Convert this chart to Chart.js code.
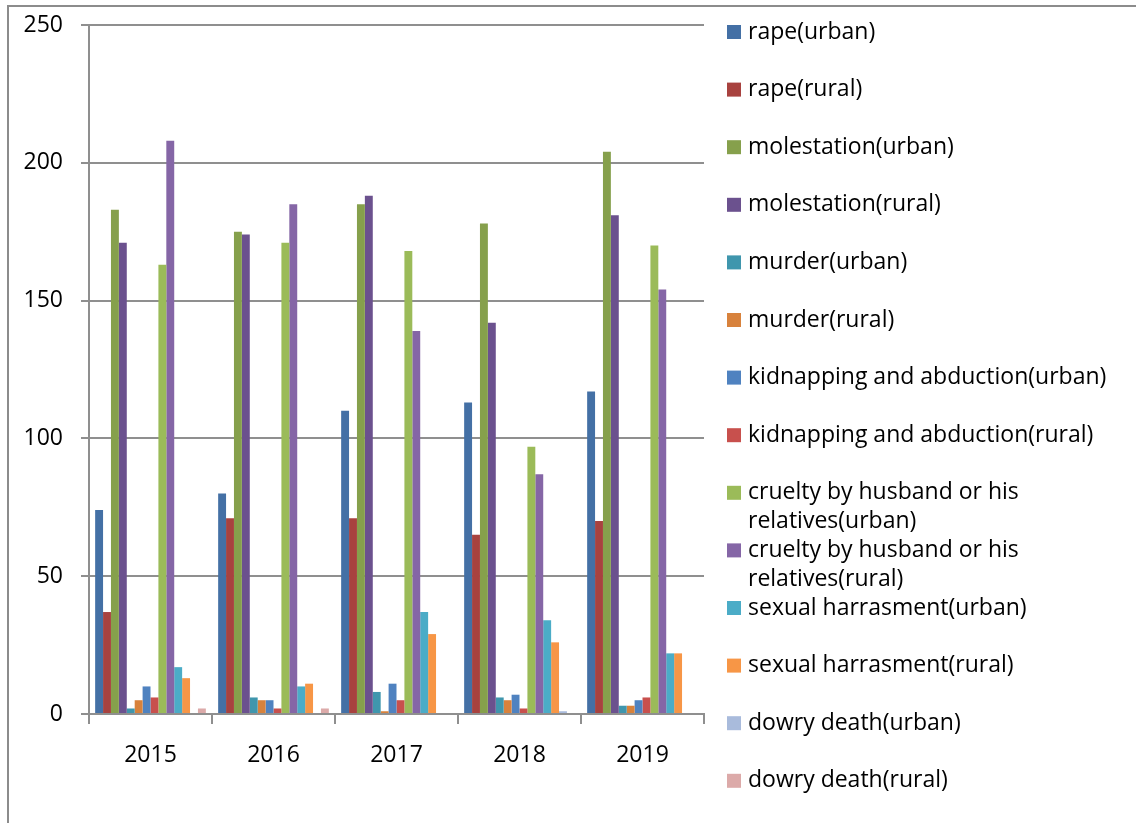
<!DOCTYPE html>
<html>
<head>
<meta charset="utf-8">
<script src="https://cdn.jsdelivr.net/npm/chart.js@4/dist/chart.umd.min.js"></script>
<style>
  html, body { margin: 0; padding: 0; background: #ffffff; }
  #wrap { width: 1136px; height: 823px; position: relative; }
</style>
</head>
<body>
<div id="wrap"><canvas id="crimes" width="1136" height="823"></canvas></div>
<script>
// Reported crimes against women, urban vs rural, by year
const years = ['2015', '2016', '2017', '2018', '2019'];

const rapeUrban         = [74, 80, 110, 113, 117];
const rapeRural         = [37, 71, 71, 65, 70];
const molestationUrban  = [183, 175, 185, 178, 204];
const molestationRural  = [171, 174, 188, 142, 181];
const murderUrban       = [2, 6, 8, 6, 3];
const murderRural       = [5, 5, 1, 5, 3];
const kidnappingUrban   = [10, 5, 11, 7, 5];
const kidnappingRural   = [6, 2, 5, 2, 6];
const crueltyUrban      = [163, 171, 168, 97, 170];
const crueltyRural      = [208, 185, 139, 87, 154];
const harassmentUrban   = [17, 10, 37, 34, 22];
const harassmentRural   = [13, 11, 29, 26, 22];
const dowryDeathUrban   = [0, 0, 0, 1, 0];
const dowryDeathRural   = [2, 2, 0, 0, 0];

const yTicks = [0, 50, 100, 150, 200, 250];

const seriesNames = [
  'rape(urban)', 'rape(rural)',
  'molestation(urban)', 'molestation(rural)',
  'murder(urban)', 'murder(rural)',
  'kidnapping and abduction(urban)', 'kidnapping and abduction(rural)',
  'cruelty by husband or his relatives(urban)', 'cruelty by husband or his relatives(rural)',
  'sexual harrasment(urban)', 'sexual harrasment(rural)',
  'dowry death(urban)', 'dowry death(rural)'
];
const seriesValues = [
  rapeUrban, rapeRural, molestationUrban, molestationRural,
  murderUrban, murderRural, kidnappingUrban, kidnappingRural,
  crueltyUrban, crueltyRural, harassmentUrban, harassmentRural,
  dowryDeathUrban, dowryDeathRural
];
const seriesColors = [
  '#4470a5', '#a8423f', '#86a04c', '#6b518e',
  '#3f96ad', '#d8823c', '#4f82c0', '#c8504d',
  '#9bbb59', '#8566a6', '#4bacc7', '#f79646',
  '#a9bbdc', '#dcaaa9'
];

const FONT = '"Open Sans", "Noto Sans", sans-serif';

const datasets = seriesNames.map((name, i) => ({
  label: name,
  data: seriesValues[i],
  backgroundColor: seriesColors[i],
  borderWidth: 0,
  barPercentage: 1.0,
  categoryPercentage: 0.9
}));

// Frame around the whole chart and white background
const framePlugin = {
  id: 'frame',
  beforeDraw(chart) {
    const ctx = chart.ctx;
    ctx.save();
    ctx.fillStyle = '#ffffff';
    ctx.fillRect(0, 0, chart.width, chart.height);
    ctx.strokeStyle = '#8c8c8c';
    ctx.lineWidth = 2;
    ctx.strokeRect(8, 6, chart.width + 20, chart.height + 20);
    ctx.restore();
  }
};

// Legend on the right with wrapped entries
const sideLegend = {
  id: 'sideLegend',
  afterDraw(chart) {
    const ctx = chart.ctx;
    const x0 = 727, textX = 748, firstY = 32, step = 57.6, lineH = 29, maxW = 378;
    ctx.save();
    ctx.font = '23px ' + FONT;
    ctx.textBaseline = 'middle';
    ctx.textAlign = 'left';
    chart.data.datasets.forEach((ds, i) => {
      const y = firstY + i * step;
      ctx.fillStyle = ds.backgroundColor;
      ctx.fillRect(x0, y - 7, 14, 14);
      // greedy word wrap
      const words = ds.label.split(' ');
      const lines = [];
      let cur = '';
      words.forEach(w => {
        const t = cur ? cur + ' ' + w : w;
        if (ctx.measureText(t).width > maxW && cur) { lines.push(cur); cur = w; }
        else cur = t;
      });
      lines.push(cur);
      ctx.fillStyle = '#000000';
      lines.forEach((ln, k) => ctx.fillText(ln, textX, y + k * lineH));
    });
    ctx.restore();
  }
};

new Chart(document.getElementById('crimes'), {
  type: 'bar',
  data: { labels: years, datasets },
  options: {
    responsive: false,
    animation: false,
    devicePixelRatio: 1,
    layout: { padding: { left: 0, top: 25, right: 432, bottom: 0 } },
    plugins: {
      legend: { display: false },
      tooltip: { enabled: false }
    },
    scales: {
      x: {
        offset: true,
        grid: {
          display: true,
          offset: true,
          drawOnChartArea: false,
          drawTicks: true,
          tickLength: 10,
          color: '#8f8f8f',
          lineWidth: 2
        },
        border: { display: true, color: '#8f8f8f', width: 2 },
        ticks: {
          color: '#000000',
          font: { family: FONT, size: 23 },
          padding: 18,
          maxRotation: 0
        },
        afterFit(scale) { scale.height = 109; }
      },
      y: {
        min: 0,
        max: 250,
        afterBuildTicks(scale) { scale.ticks = yTicks.map(v => ({ value: v })); },
        grid: {
          color: '#8f8f8f',
          lineWidth: 2,
          drawTicks: true,
          tickLength: 8
        },
        border: { display: true, color: '#8f8f8f', width: 2 },
        ticks: {
          color: '#000000',
          font: { family: FONT, size: 23 },
          padding: 18
        },
        afterFit(scale) {
          scale.width = 89;
          scale.paddingTop = 0;
          scale.paddingBottom = 0;
        }
      }
    }
  },
  plugins: [framePlugin, sideLegend]
});
</script>
</body>
</html>
